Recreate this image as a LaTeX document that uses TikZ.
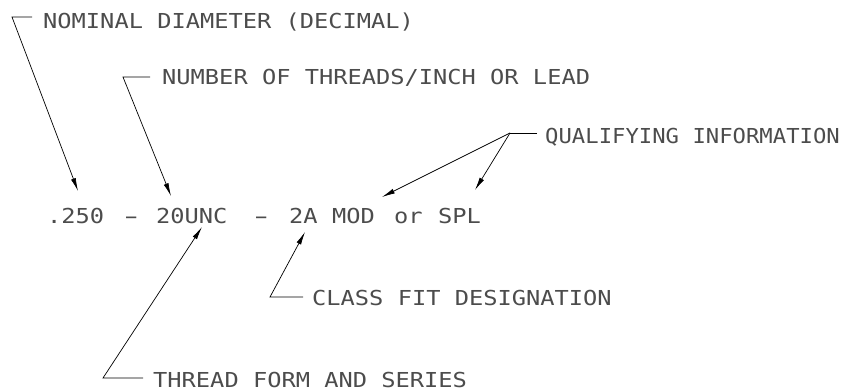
\documentclass[tikz,border=0pt]{standalone}
\usepackage{fontspec}
\usetikzlibrary{arrows.meta}
\newfontfamily\cadfont{DejaVu Sans Mono}[FakeStretch=1.15]
\newfontfamily\cadnarrow{DejaVu Sans Mono}[FakeStretch=1.08]
\begin{document}
\begin{tikzpicture}[x=1pt,y=-1pt,
  lbl/.style={anchor=base west,inner sep=0pt,text=black!70,font=\cadfont\fontsize{20.6}{24}\selectfont},
  lblN/.style={lbl,font=\cadnarrow\fontsize{20.6}{24}\selectfont},
  lead/.style={line width=0.7pt,black},
  arr/.style={lead,-{Latex[length=13pt,width=5pt]}}]
\useasboundingbox (0,0) rectangle (851,391);
% labels
\node[lbl] (nom) at (43,28) {NOMINAL DIAMETER (DECIMAL)};
\node[lbl] (num) at (162,84) {NUMBER OF THREADS/INCH OR LEAD};
\node[lblN] (qual) at (545,143) {QUALIFYING INFORMATION};
\node[lbl] (clsfit) at (312,305) {CLASS FIT DESIGNATION};
\node[lbl] (thr) at (153,387) {THREAD FORM AND SERIES};
% main designation
\node[lbl] (d250) at (47,223) {.250};
\node[lbl] (dashA) at (119,223) {\scalebox{1.7}[1]{-}};
\node[lbl] (unc) at (156,223) {20UNC};
\node[lbl] (dashB) at (249,223) {\scalebox{1.7}[1]{-}};
\node[lbl] (cls) at (289,223) {2A};
\node[lbl] (mod) at (332,223) {MOD};
\node[lbl] (orw) at (394,223) {or};
\node[lbl] (spl) at (438,223) {SPL};
% leader points
\coordinate (nomE) at (32,17);
\coordinate (nomC) at (12,17);
\coordinate (nomT) at (78,191);
\coordinate (numE) at (150,77);
\coordinate (numC) at (123,77);
\coordinate (numT) at (171,196);
\coordinate (qE) at (537,133);
\coordinate (qC) at (510,133);
\coordinate (qT1) at (382,197);
\coordinate (qT2) at (475,190);
\coordinate (cE) at (303,297);
\coordinate (cC) at (270,297);
\coordinate (cT) at (305,232);
\coordinate (tE) at (143,378);
\coordinate (tC) at (103,378);
\coordinate (tT) at (202,227);
% leaders
\draw[arr] (nomE) -- (nomC) -- (nomT);
\draw[arr] (numE) -- (numC) -- (numT);
\draw[lead] (qE) -- (qC);
\draw[arr] (qC) -- (qT1);
\draw[arr] (qC) -- (qT2);
\draw[arr] (cE) -- (cC) -- (cT);
\draw[arr] (tE) -- (tC) -- (tT);
\end{tikzpicture}
\end{document}
